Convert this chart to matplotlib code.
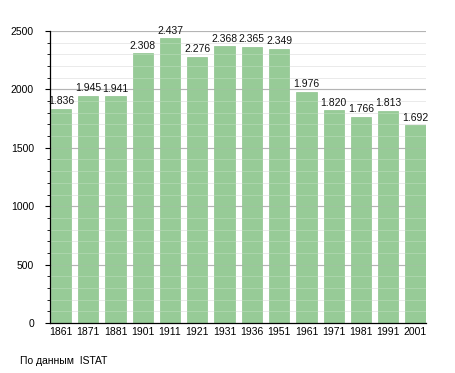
import matplotlib
matplotlib.use("Agg")
import matplotlib.pyplot as plt
from matplotlib.ticker import MultipleLocator

years = ["1861", "1871", "1881", "1901", "1911", "1921", "1931", "1936",
         "1951", "1961", "1971", "1981", "1991", "2001"]
population = [1836, 1945, 1941, 2308, 2437, 2276, 2368, 2365,
              2349, 1976, 1820, 1766, 1813, 1692]
source_text = "По данным  ISTAT"

plt.rcParams['font.family'] = ['Liberation Sans', 'DejaVu Sans']

fig = plt.figure(figsize=(4.55, 3.73), dpi=100)
ax = fig.add_axes([50/455, 1 - 323/373, (426-50)/455, (323-31)/373])

x = list(range(len(years)))
ax.bar(x, population, width=0.745, color='#97cb97', edgecolor='#8fc48f',
       linewidth=0.5, zorder=2)

for xi, v in zip(x, population):
    lab = f"{v:,}".replace(",", ".")
    ax.annotate(lab, (xi, v), xytext=(0, 2), textcoords='offset points',
                ha='center', va='bottom', fontsize=7.5, color='#111111', zorder=4)

ax.set_xlim(-0.403, 13.385)
ax.set_ylim(0, 2500)
ax.yaxis.set_major_locator(MultipleLocator(500))
ax.yaxis.set_minor_locator(MultipleLocator(100))

# background grid
for yv in range(100, 2501, 100):
    if yv % 500 == 0:
        ax.axhline(yv, color='#b4b4b4', linewidth=0.8, zorder=1)
        ax.axhline(yv, color='#b4b4b4', linewidth=0.8, zorder=3, alpha=0.25)
    else:
        ax.axhline(yv, color='#e6e6e6', linewidth=0.7, zorder=1)
        ax.axhline(yv, color='#ffffff', linewidth=0.7, zorder=3, alpha=0.2)

ax.set_xticks(x)
ax.set_xticklabels(years, fontsize=7.5)
ax.tick_params(axis='x', length=0, pad=3)
ax.tick_params(axis='y', which='major', length=3.5, width=0.8, labelsize=7.5, pad=8)
ax.tick_params(axis='y', which='minor', length=2, width=0.6)

for s in ['top', 'right']:
    ax.spines[s].set_visible(False)
ax.spines['left'].set_linewidth(0.9)
ax.spines['bottom'].set_linewidth(0.9)
ax.spines['left'].set_zorder(5)
ax.spines['bottom'].set_zorder(5)

fig.text(20/455, 1 - 361/373, source_text, fontsize=7.5, ha='left', va='center')

fig.savefig("out.png", dpi=100)
